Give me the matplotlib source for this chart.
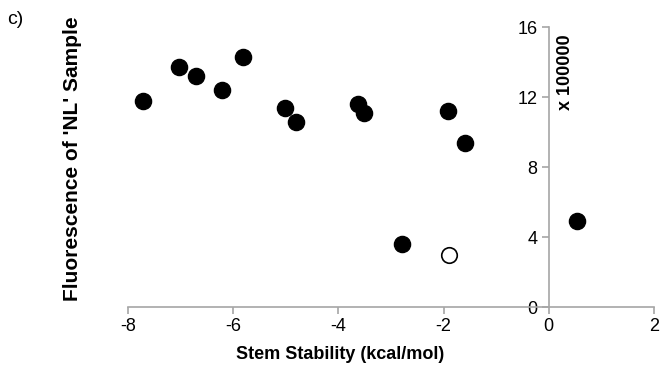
import matplotlib
matplotlib.use("Agg")
import matplotlib.pyplot as plt

plt.rcParams['font.family'] = ['Liberation Sans', 'DejaVu Sans']
plt.rcParams['axes.unicode_minus'] = False

# Stem stability (kcal/mol) vs fluorescence (x 100000)
stem_filled = [-7.71, -7.03, -6.70, -6.21, -5.81, -5.01, -4.80,
               -3.62, -3.52, -1.92, -1.60, -2.80, 0.53]
fluor_filled = [11.8, 13.7, 13.2, 12.4, 14.3, 11.4, 10.6,
                11.6, 11.1, 11.2, 9.4, 3.6, 4.9]
stem_open = [-1.90]
fluor_open = [2.97]

x_ticks = [-8, -6, -4, -2, 0, 2]
y_ticks = [0, 4, 8, 12, 16]

fig = plt.figure(figsize=(6.6, 3.73), dpi=100)
ax = fig.add_axes([128 / 660, 1 - 307 / 373, 526 / 660, 280 / 373])

ax.scatter(stem_filled, fluor_filled, s=135, color='black', zorder=3)
ax.scatter(stem_open, fluor_open, s=125, facecolor='white',
           edgecolor='black', linewidth=1.2, zorder=3)

ax.set_xlim(-8, 2)
ax.set_ylim(0, 16)
ax.set_xticks(x_ticks)
ax.set_yticks(y_ticks)

grey = '#a6a6a6'
ax.spines['top'].set_visible(False)
ax.spines['right'].set_visible(False)
ax.spines['left'].set_position(('data', 0))
for s in ('left', 'bottom'):
    ax.spines[s].set_color(grey)
    ax.spines[s].set_linewidth(1.2)
ax.tick_params(axis='both', colors=grey, labelcolor='black',
               labelsize=13, length=5, width=1.2, pad=3)

ax.set_xlabel('Stem Stability (kcal/mol)', fontsize=13, fontweight='bold')
ax.xaxis.set_label_coords(0.403, -0.14)
ax.set_ylabel("Fluorescence of 'NL' Sample", fontsize=15, fontweight='bold')
ax.yaxis.set_label_coords(-0.087, 0.529)

fig.text(565 / 660, 1 - 72 / 373, 'x 100000', rotation=90, fontsize=13,
         fontweight='bold', ha='center', va='center')
fig.text(15 / 660, 1 - 20 / 373, 'c)', fontsize=14, ha='center', va='center')

fig.savefig('out.png', dpi=100)
